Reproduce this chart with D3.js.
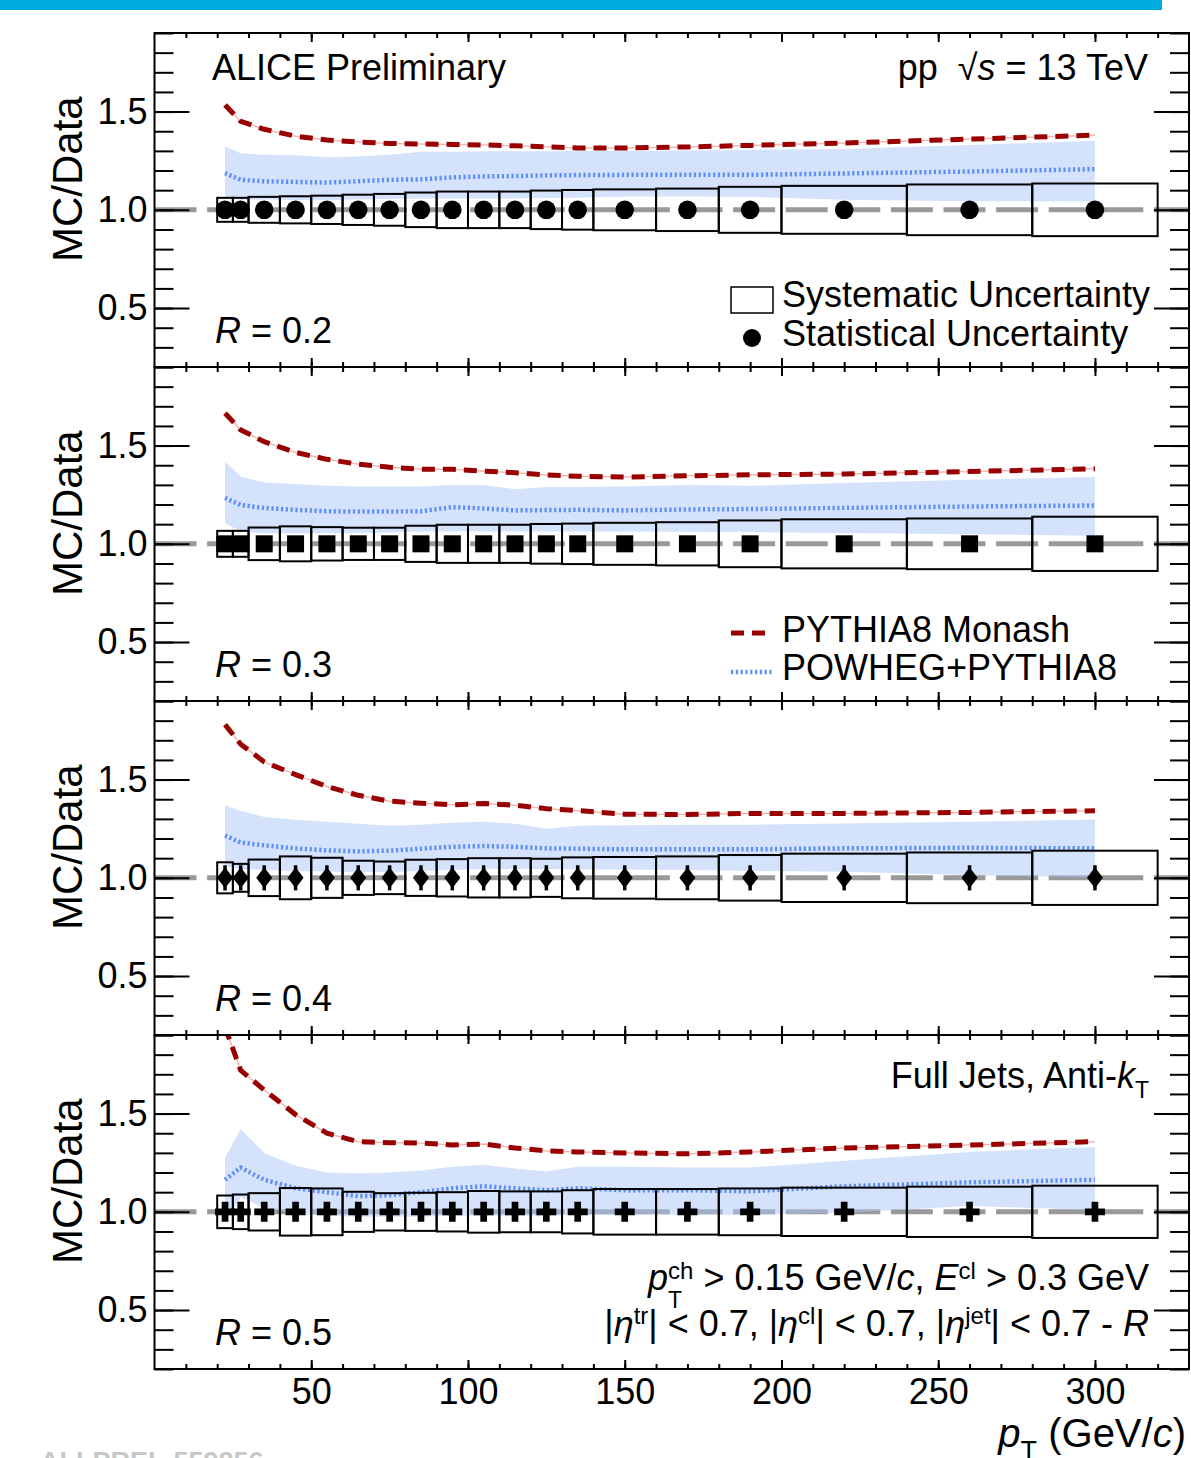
<!DOCTYPE html>
<html>
<head>
<meta charset="utf-8">
<script src="https://cdnjs.cloudflare.com/ajax/libs/d3/7.8.5/d3.min.js"></script>
<style>
body { margin: 0; background: #fff; }
text { font-family: "Liberation Sans", Arial, Helvetica, sans-serif; white-space: pre; }
</style>
</head>
<body>
<div id="chart"></div>
<script>
// pT bins (GeV/c)
var binEdges = [20, 25, 30, 40, 50, 60, 70, 80, 90, 100, 110, 120, 130, 140, 160, 180, 200, 240, 280, 320];
var radii = ['0.2', '0.3', '0.4', '0.5'];
var yTickMajor = [0.5, 1.0, 1.5];
var xTickMajor = [50, 100, 150, 200, 250, 300];

// relative systematic uncertainty (half height of boxes)
var sys02 = [0.061, 0.061, 0.066, 0.069, 0.072, 0.077, 0.081, 0.088, 0.093, 0.093, 0.093, 0.098, 0.101, 0.104, 0.108, 0.117, 0.122, 0.129, 0.134];
var sys03 = [0.066, 0.066, 0.083, 0.089, 0.085, 0.082, 0.082, 0.092, 0.097, 0.097, 0.097, 0.101, 0.103, 0.107, 0.110, 0.119, 0.125, 0.129, 0.138];
var sys04 = [0.079, 0.071, 0.093, 0.109, 0.102, 0.087, 0.083, 0.092, 0.095, 0.100, 0.100, 0.097, 0.104, 0.106, 0.109, 0.116, 0.123, 0.129, 0.138];
var sys05 = [0.083, 0.088, 0.095, 0.121, 0.119, 0.102, 0.095, 0.097, 0.100, 0.106, 0.104, 0.104, 0.110, 0.116, 0.116, 0.119, 0.123, 0.128, 0.133];

// statistical uncertainty
var stat02 = [0.010, 0.010, 0.010, 0.011, 0.012, 0.012, 0.013, 0.013, 0.014, 0.015, 0.016, 0.017, 0.018, 0.018, 0.020, 0.022, 0.024, 0.028, 0.032];
var stat03 = [0.012, 0.012, 0.012, 0.013, 0.014, 0.014, 0.015, 0.015, 0.016, 0.017, 0.018, 0.019, 0.020, 0.021, 0.023, 0.025, 0.027, 0.031, 0.035];
var stat04 = [0.064, 0.064, 0.064, 0.064, 0.064, 0.064, 0.064, 0.064, 0.064, 0.064, 0.064, 0.064, 0.064, 0.064, 0.064, 0.064, 0.064, 0.064, 0.064];
var stat05 = [0.020, 0.020, 0.021, 0.022, 0.023, 0.024, 0.025, 0.026, 0.027, 0.028, 0.029, 0.030, 0.031, 0.032, 0.034, 0.036, 0.038, 0.042, 0.046];

// PYTHIA8 Monash / data
var pythia02 = [1.534, 1.450, 1.410, 1.375, 1.355, 1.345, 1.338, 1.335, 1.333, 1.330, 1.326, 1.321, 1.315, 1.315, 1.320, 1.328, 1.340, 1.360, 1.380];
var pythia03 = [1.665, 1.580, 1.520, 1.465, 1.430, 1.405, 1.390, 1.380, 1.380, 1.370, 1.362, 1.350, 1.344, 1.340, 1.346, 1.351, 1.355, 1.368, 1.382];
var pythia04 = [1.780, 1.680, 1.590, 1.525, 1.465, 1.420, 1.390, 1.380, 1.372, 1.378, 1.370, 1.352, 1.342, 1.324, 1.322, 1.328, 1.328, 1.333, 1.341];
var pythia05 = [1.940, 1.720, 1.620, 1.495, 1.400, 1.357, 1.352, 1.350, 1.340, 1.345, 1.325, 1.310, 1.305, 1.300, 1.295, 1.305, 1.325, 1.340, 1.357];

// POWHEG+PYTHIA8 / data (central, upper, lower)
var powheg02 = [1.187, 1.153, 1.145, 1.142, 1.139, 1.145, 1.153, 1.155, 1.165, 1.170, 1.172, 1.175, 1.177, 1.178, 1.178, 1.178, 1.185, 1.195, 1.207];
var powhegUp02 = [1.322, 1.288, 1.280, 1.278, 1.268, 1.272, 1.280, 1.295, 1.295, 1.298, 1.298, 1.298, 1.300, 1.300, 1.302, 1.305, 1.310, 1.330, 1.351];
var powhegLo02 = [1.068, 1.051, 1.052, 1.050, 1.050, 1.052, 1.055, 1.058, 1.058, 1.058, 1.058, 1.060, 1.062, 1.068, 1.068, 1.066, 1.051, 1.044, 1.042];

var powheg03 = [1.233, 1.198, 1.182, 1.173, 1.166, 1.164, 1.164, 1.166, 1.187, 1.180, 1.170, 1.172, 1.173, 1.170, 1.175, 1.177, 1.183, 1.190, 1.195];
var powhegUp03 = [1.419, 1.343, 1.312, 1.305, 1.295, 1.292, 1.292, 1.292, 1.300, 1.298, 1.278, 1.289, 1.289, 1.292, 1.300, 1.295, 1.309, 1.326, 1.340];
var powhegLo03 = [1.105, 1.063, 1.054, 1.054, 1.054, 1.055, 1.058, 1.063, 1.063, 1.063, 1.063, 1.063, 1.063, 1.063, 1.062, 1.060, 1.055, 1.049, 1.041];

var powheg04 = [1.215, 1.180, 1.165, 1.150, 1.140, 1.135, 1.138, 1.148, 1.158, 1.162, 1.158, 1.150, 1.148, 1.145, 1.145, 1.145, 1.150, 1.153, 1.150];
var powhegUp04 = [1.370, 1.340, 1.310, 1.295, 1.285, 1.275, 1.265, 1.270, 1.280, 1.285, 1.275, 1.250, 1.265, 1.268, 1.270, 1.270, 1.277, 1.285, 1.297];
var powhegLo04 = [1.060, 1.045, 1.040, 1.035, 1.032, 1.030, 1.030, 1.035, 1.040, 1.045, 1.045, 1.045, 1.043, 1.043, 1.040, 1.035, 1.031, 1.014, 1.002];

var powheg05 = [1.163, 1.225, 1.163, 1.120, 1.100, 1.080, 1.085, 1.100, 1.120, 1.130, 1.120, 1.110, 1.120, 1.110, 1.110, 1.105, 1.130, 1.150, 1.163];
var powhegUp05 = [1.275, 1.420, 1.300, 1.235, 1.200, 1.195, 1.200, 1.210, 1.230, 1.240, 1.220, 1.205, 1.230, 1.230, 1.225, 1.225, 1.260, 1.305, 1.330];
var powhegLo05 = [0.940, 1.075, 1.020, 0.990, 0.980, 0.975, 0.975, 0.975, 0.980, 0.980, 0.980, 0.980, 0.985, 0.985, 0.985, 0.985, 0.995, 1.030, 1.010];

var sysAll = [sys02, sys03, sys04, sys05];
var statAll = [stat02, stat03, stat04, stat05];
var pythiaAll = [pythia02, pythia03, pythia04, pythia05];
var powhegAll = [powheg02, powheg03, powheg04, powheg05];
var powhegUpAll = [powhegUp02, powhegUp03, powhegUp04, powhegUp05];
var powhegLoAll = [powhegLo02, powhegLo03, powhegLo04, powhegLo05];
var markers = ['circle', 'square', 'diamond', 'cross'];

var W = 1191, H = 1458;
var padTop = 33, padH = 334;
var font = 36;

var svg = d3.select('#chart').append('svg')
	.attr('width', W)
	.attr('height', H);

svg.append('rect')
	.attr('x', 0).attr('y', 0)
	.attr('width', 1162).attr('height', 10)
	.attr('fill', '#00acde');

var x = d3.scaleLinear().domain([0, 330]).range([154.5, 1189]);
var centers = d3.range(binEdges.length - 1).map(function(i) { return (binEdges[i] + binEdges[i + 1]) / 2; });
var xMinor = d3.range(1, 33).map(function(d) { return d * 10; });
var yMinor = d3.range(2, 20).map(function(d) { return d / 10; });

// helper: text made of pieces (italic, sub/sup), measured and placed one after another
function rich(parent, px, py, parts, anchor, size) {
	var g = parent.append('g');
	var cx = 0;
	parts.forEach(function(p) {
		var t = g.append('text')
			.attr('x', cx)
			.attr('y', p.dy || 0)
			.attr('font-size', p.size || size || font)
			.attr('font-style', p.it ? 'italic' : null)
			.attr('fill', '#000')
			.text(p.t);
		var w = t.node().getComputedTextLength();
		if (!p.stack) cx += w;
	});
	g.attr('transform', 'translate(' + (anchor === 'end' ? px - cx : px) + ',' + py + ')');
	return g;
}

radii.forEach(function(r, i) {
	var top = padTop + i * padH;
	var y = d3.scaleLinear().domain([0.2, 1.9]).range([top + padH, top]);
	var panel = svg.append('g');

	panel.append('clipPath').attr('id', 'clip' + i)
		.append('rect')
		.attr('x', x(0)).attr('y', top)
		.attr('width', x(330) - x(0)).attr('height', padH);

	var body = panel.append('g').attr('clip-path', 'url(#clip' + i + ')');

	// reference line at 1
	body.append('line')
		.attr('x1', x(0)).attr('x2', x(330))
		.attr('y1', y(1)).attr('y2', y(1))
		.attr('stroke', '#999')
		.attr('stroke-width', 5)
		.attr('stroke-dasharray', '42,10.6');

	// POWHEG band
	var band = d3.area()
		.x(function(d, k) { return x(centers[k]); })
		.y0(function(d, k) { return y(powhegLoAll[i][k]); })
		.y1(function(d) { return y(d); });
	body.append('path')
		.datum(powhegUpAll[i])
		.attr('d', band)
		.attr('fill', 'rgb(170,198,250)')
		.attr('fill-opacity', 0.5);

	var line = d3.line()
		.x(function(d, k) { return x(centers[k]); })
		.y(function(d) { return y(d); });

	// PYTHIA8
	body.append('path')
		.datum(pythiaAll[i])
		.attr('d', line)
		.attr('fill', 'none')
		.attr('stroke', '#f2b8b8')
		.attr('stroke-width', 1.5);
	body.append('path')
		.datum(pythiaAll[i])
		.attr('d', line)
		.attr('fill', 'none')
		.attr('stroke', '#990000')
		.attr('stroke-width', 5)
		.attr('stroke-dasharray', '13,8');

	// POWHEG
	body.append('path')
		.datum(powhegAll[i])
		.attr('d', line)
		.attr('fill', 'none')
		.attr('stroke', '#5f8ff5')
		.attr('stroke-width', 4.5)
		.attr('stroke-dasharray', '2.2,2.6');

	// systematic boxes
	body.selectAll('rect.sys')
		.data(sysAll[i])
		.enter().append('rect')
		.attr('class', 'sys')
		.attr('x', function(d, k) { return x(binEdges[k]); })
		.attr('width', function(d, k) { return x(binEdges[k + 1]) - x(binEdges[k]); })
		.attr('y', function(d) { return y(1 + d); })
		.attr('height', function(d) { return y(1 - d) - y(1 + d); })
		.attr('fill', 'none')
		.attr('stroke', '#000')
		.attr('stroke-width', 2);

	// statistical error bars
	body.selectAll('line.stat')
		.data(statAll[i])
		.enter().append('line')
		.attr('class', 'stat')
		.attr('x1', function(d, k) { return x(centers[k]); })
		.attr('x2', function(d, k) { return x(centers[k]); })
		.attr('y1', function(d) { return y(1 + d); })
		.attr('y2', function(d) { return y(1 - d); })
		.attr('stroke', '#000')
		.attr('stroke-width', 3.5);

	// markers
	var m = markers[i];
	var pts = body.selectAll('g.pt')
		.data(centers)
		.enter().append('g')
		.attr('class', 'pt')
		.attr('transform', function(d) { return 'translate(' + x(d) + ',' + y(1) + ')'; });
	if (m === 'circle') {
		pts.append('circle').attr('r', 9.3).attr('fill', '#000');
	} else if (m === 'square') {
		pts.append('rect').attr('x', -8.5).attr('y', -8.5).attr('width', 17).attr('height', 17).attr('fill', '#000');
	} else if (m === 'diamond') {
		pts.append('path').attr('d', 'M0,-10.5L8,0L0,10.5L-8,0Z').attr('fill', '#000');
	} else {
		pts.append('path').attr('d', d3.symbol().type(d3.symbolCross).size(222)).attr('fill', '#000');
	}

	// axes: ticks inside the frame
	var axes = panel.append('g');

	var yMaj = d3.axisLeft(y).tickValues(yTickMajor).tickSize(-35).tickPadding(7).tickFormat(d3.format('.1f'));
	var yMin = d3.axisLeft(y).tickValues(yMinor).tickSize(-19).tickFormat('');
	var yMajR = d3.axisRight(y).tickValues(yTickMajor).tickSize(-35).tickFormat('');
	var yMinR = d3.axisRight(y).tickValues(yMinor).tickSize(-19).tickFormat('');
	var xMajT = d3.axisTop(x).tickValues(xTickMajor).tickSize(-9).tickFormat('');
	var xMinT = d3.axisTop(x).tickValues(xMinor).tickSize(-5).tickFormat('');
	var xMajB = d3.axisBottom(x).tickValues(xTickMajor).tickSize(-9).tickPadding(9).tickFormat(i === 3 ? d3.format('d') : '');
	var xMinB = d3.axisBottom(x).tickValues(xMinor).tickSize(-5).tickFormat('');

	[[yMaj, x(0), 0], [yMin, x(0), 0], [yMajR, x(330), 0], [yMinR, x(330), 0]].forEach(function(a) {
		axes.append('g').attr('transform', 'translate(' + a[1] + ',0)').call(a[0]);
	});
	[[xMajT, top], [xMinT, top], [xMajB, top + padH], [xMinB, top + padH]].forEach(function(a) {
		axes.append('g').attr('transform', 'translate(0,' + a[1] + ')').call(a[0]);
	});
	axes.selectAll('.domain').remove();
	axes.selectAll('.tick line').attr('stroke', '#000').attr('stroke-width', 2);
	axes.selectAll('.tick text')
		.attr('fill', '#000')
		.attr('font-size', font)
		.attr('font-family', '"Liberation Sans", Arial, sans-serif');

	// frame
	panel.append('rect')
		.attr('x', x(0)).attr('y', top)
		.attr('width', x(330) - x(0)).attr('height', padH)
		.attr('fill', 'none')
		.attr('stroke', '#000')
		.attr('stroke-width', 2);

	// y title
	panel.append('text')
		.attr('transform', 'translate(82,' + (top + 229) + ') rotate(-90)')
		.attr('font-size', 42)
		.text('MC/Data');

	// R label
	rich(panel, 215, top + 310, [{ t: 'R', it: true }, { t: ' = ' + r }]);
});

// texts, panel 1
rich(svg, 212, 80, [{ t: 'ALICE Preliminary' }]);
rich(svg, 1148, 80, [{ t: 'pp  ' }, { t: '\u221A' }, { t: 's', it: true }, { t: ' = 13 TeV' }], 'end');

// legend, panel 1
svg.append('rect')
	.attr('x', 731).attr('y', 287).attr('width', 42).attr('height', 26)
	.attr('fill', 'none').attr('stroke', '#000').attr('stroke-width', 1.5);
svg.append('circle').attr('cx', 752).attr('cy', 338).attr('r', 9).attr('fill', '#000');
rich(svg, 782, 307, [{ t: 'Systematic Uncertainty' }]);
rich(svg, 782, 346, [{ t: 'Statistical Uncertainty' }]);

// legend, panel 2
svg.append('line')
	.attr('x1', 731).attr('x2', 767).attr('y1', 633).attr('y2', 633)
	.attr('stroke', '#990000').attr('stroke-width', 5).attr('stroke-dasharray', '13,8');
svg.append('line')
	.attr('x1', 731).attr('x2', 772).attr('y1', 672).attr('y2', 672)
	.attr('stroke', '#5f8ff5').attr('stroke-width', 4.5).attr('stroke-dasharray', '2.2,2.6');
rich(svg, 782, 642, [{ t: 'PYTHIA8 Monash' }]);
rich(svg, 782, 680, [{ t: 'POWHEG+PYTHIA8' }]);

// texts, panel 4
rich(svg, 1149, 1088, [{ t: 'Full Jets, Anti-' }, { t: 'k', it: true }, { t: 'T', size: 23, dy: 10 }], 'end');
rich(svg, 1149, 1290, [
	{ t: 'p', it: true }, { t: 'T', size: 23, dy: 18, stack: true }, { t: 'ch', size: 24, dy: -11 },
	{ t: ' > 0.15 GeV/' }, { t: 'c', it: true }, { t: ', ' }, { t: 'E', it: true }, { t: 'cl', size: 24, dy: -11 },
	{ t: ' > 0.3 GeV' }
], 'end');
rich(svg, 1149, 1336, [
	{ t: '|' }, { t: '\u03B7', it: true }, { t: 'tr', size: 24, dy: -12 }, { t: '| < 0.7, |' },
	{ t: '\u03B7', it: true }, { t: 'cl', size: 24, dy: -12 }, { t: '| < 0.7, |' },
	{ t: '\u03B7', it: true }, { t: 'jet', size: 24, dy: -12 }, { t: '| < 0.7 - ' }, { t: 'R', it: true }
], 'end');

// x title
rich(svg, 1186, 1447, [{ t: 'p', it: true }, { t: 'T', size: 27, dy: 13 }, { t: ' (GeV/' }, { t: 'c', it: true }, { t: ')' }], 'end', 40);

// preliminary id (cut at the bottom edge)
svg.append('text')
	.attr('x', 40).attr('y', 1471)
	.attr('font-size', 27)
	.attr('font-weight', 'bold')
	.attr('fill', '#c8c8c8')
	.text('ALI-PREL-559856');
</script>
</body>
</html>
